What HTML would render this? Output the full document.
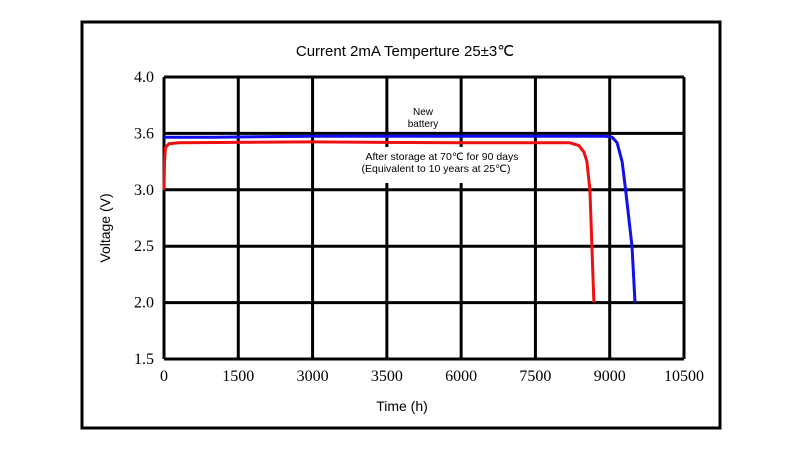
<!DOCTYPE html>
<html><head><meta charset="utf-8"><style>
body{margin:0;background:#fff;width:800px;height:451px;overflow:hidden}
svg{display:block}
</style></head><body>
<svg id="c" width="800" height="451" xmlns="http://www.w3.org/2000/svg">
<rect x="82" y="22" width="638" height="406" fill="none" stroke="#000" stroke-width="3"/>
<text x="405" y="56" text-anchor="middle" font-family="Liberation Sans, sans-serif" font-size="15">Current 2mA  Temperture 25±3℃</text>
<g id="grid"></g>
<rect x="342" y="147" width="182" height="36" fill="#fff"/>
<g id="series"></g>
<text x="423" y="115" text-anchor="middle" font-family="Liberation Sans, sans-serif" font-size="10">New</text>
<text x="423" y="127" text-anchor="middle" font-family="Liberation Sans, sans-serif" font-size="10">battery</text>
<text x="442" y="160" text-anchor="middle" font-family="Liberation Sans, sans-serif" font-size="10.5">After storage at 70℃ for 90 days</text>
<text x="436" y="172" text-anchor="middle" font-family="Liberation Sans, sans-serif" font-size="10.5">(Equivalent to 10 years at 25℃)</text>
<text x="402" y="411" text-anchor="middle" font-family="Liberation Sans, sans-serif" font-size="14">Time (h)</text>
<text transform="translate(110,228) rotate(-90)" text-anchor="middle" font-family="Liberation Sans, sans-serif" font-size="14">Voltage (V)</text>
</svg>
<script>
const xTicks=[0,1500,3000,4500,6000,7500,9000,10500];
const xTickLabels=["0","1500","3000","3500","6000","7500","9000","10500"];
const yTicks=[4.0,3.6,3.0,2.5,2.0,1.5];
const newTime=[0,1000,3000,6000,8900,9050,9150,9250,9320,9450,9510];
const newVolt=[3.56,3.56,3.57,3.57,3.57,3.56,3.5,3.3,3.0,2.5,2.0];
const oldTime=[0,10,30,100,300,3000,6000,8200,8380,8480,8540,8600,8640,8680];
const oldVolt=[3.0,3.3,3.45,3.49,3.5,3.51,3.5,3.5,3.47,3.4,3.3,3.0,2.5,2.0];
const X0=164,X1=684,Y0=77,Y1=359;
function xs(v){return X0+(v-xTicks[0])/(xTicks[xTicks.length-1]-xTicks[0])*(X1-X0);}
function ys(v){const step=(Y1-Y0)/(yTicks.length-1);
 for(let i=0;i<yTicks.length-1;i++){const a=yTicks[i],b=yTicks[i+1];
  if(v<=a&&v>=b)return Y0+step*(i+(a-v)/(a-b));}
 return v>yTicks[0]?Y0:Y1;}
const NS="http://www.w3.org/2000/svg";
function mk(t,a,p){const e=document.createElementNS(NS,t);for(const k in a)e.setAttribute(k,a[k]);p.appendChild(e);return e;}
const g=document.getElementById('grid');
xTicks.forEach((t,i)=>{
 const l=mk('line',{x1:xs(t),x2:xs(t),y1:Y0,y2:Y1,stroke:'#000','stroke-width':3},g);
 
 
 const tx=mk('text',{x:xs(t),y:381,'text-anchor':'middle','font-family':'Liberation Serif, serif','font-size':16},g);
 tx.textContent=xTickLabels[i];
 
 
});
yTicks.forEach(t=>{
 const l=mk('line',{x1:X0,x2:X1,y1:ys(t),y2:ys(t),stroke:'#000','stroke-width':3},g);
 
 
 const tx=mk('text',{x:154,y:ys(t)+5,'text-anchor':'end','font-family':'Liberation Serif, serif','font-size':16},g);
 tx.textContent=t.toFixed(1);
 
 
});
const s=document.getElementById('series');
function path(T,V){return T.map((t,i)=>(i?'L':'M')+xs(t).toFixed(1)+','+ys(V[i]).toFixed(1)).join(' ');}
const pb=mk('path',{d:path(newTime,newVolt),fill:'none',stroke:'#1010ee','stroke-width':3,'stroke-linejoin':'round'},s);


const pr=mk('path',{d:path(oldTime,oldVolt),fill:'none',stroke:'#ee1010','stroke-width':3,'stroke-linejoin':'round'},s);


</script>
</body></html>
